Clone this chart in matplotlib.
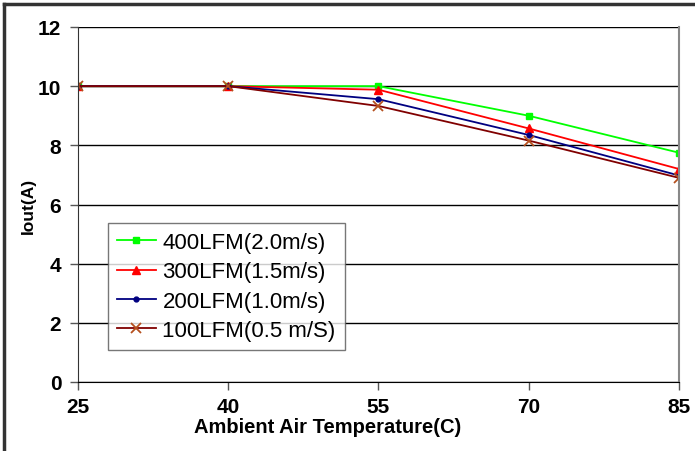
import matplotlib.pyplot as plt
from matplotlib.lines import Line2D

plt.rcParams['font.family'] = ['Liberation Sans', 'DejaVu Sans']

# Data
temps = [25, 40, 55, 70, 85]
lfm400 = [10.0, 10.0, 10.0, 9.0, 7.75]
lfm300 = [10.0, 10.0, 9.88, 8.57, 7.2]
lfm200 = [10.0, 10.0, 9.56, 8.35, 6.98]
lfm100 = [10.0, 10.0, 9.33, 8.16, 6.9]
labels = ["400LFM(2.0m/s)", "300LFM(1.5m/s)", "200LFM(1.0m/s)", "100LFM(0.5 m/S)"]

fig = plt.figure(figsize=(6.95, 4.52), dpi=100)
ax = fig.add_axes([78 / 695, 1 - 383 / 452, 601 / 695, 355 / 452])

ax.plot(temps, lfm400, color="#00FF00", lw=1.3, marker="s", ms=4.5, label=labels[0])
ax.plot(temps, lfm300, color="#FF0000", lw=1.3, marker="^", ms=5.5, label=labels[1])
ax.plot(temps, lfm200, color="#000080", lw=1.3, marker="o", ms=3.5, label=labels[2])
ax.plot(temps, lfm100, color="#800000", lw=1.3, marker="x", ms=7, mew=1.3,
        mec="#B5501E", label=labels[3])

ax.set_xlim(25, 85)
ax.set_ylim(0, 12)
ax.set_xticks(temps)
ax.set_yticks(range(0, 13, 2))
ax.yaxis.grid(True, color="black", lw=1)
ax.set_axisbelow(True)
ax.tick_params(axis="both", direction="out", length=6, width=1, colors="#555555",
               labelsize=15, labelcolor="black", pad=6)
ax.tick_params(axis="x", pad=5)
for lab in ax.get_xticklabels() + ax.get_yticklabels():
    lab.set_fontweight("bold")

ax.spines["top"].set_visible(False)
ax.spines["left"].set_color("#333333")
ax.spines["bottom"].set_color("black")
ax.spines["right"].set_color("#888888")
ax.spines["right"].set_linewidth(1.5)

ax.set_xlabel("Ambient Air Temperature(C)", fontsize=14.5, fontweight="bold")
ax.xaxis.set_label_coords((328 - 78) / 601, -0.098)
ax.set_ylabel("Iout(A)", fontsize=12.5, fontweight="bold")
ax.yaxis.set_label_coords((36 - 78) / 601, 0.5)

leg = ax.legend(loc="upper left", bbox_to_anchor=(30 / 601, (383 - 224) / 355),
                borderaxespad=0, fontsize=16, frameon=True, fancybox=False,
                edgecolor="#555555", handlelength=1.75, labelspacing=0.38,
                borderpad=0.4, handletextpad=0.3)
leg.get_frame().set_linewidth(1)

# outer chart border (top and left)
fig.add_artist(Line2D([4 / 695, 4 / 695], [0, 1 - 5 / 452], color="#333333", lw=2.5))
fig.add_artist(Line2D([4 / 695, 1], [1 - 5 / 452, 1 - 5 / 452], color="#333333", lw=2.5))

fig.savefig("out.png", dpi=100)
